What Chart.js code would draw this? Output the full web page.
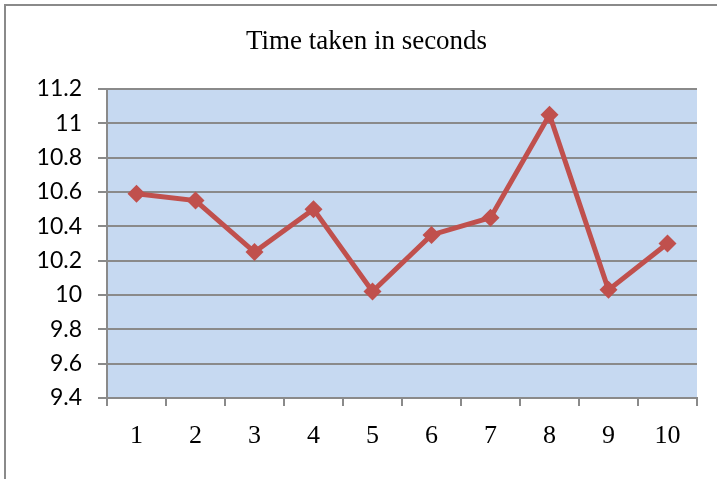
<!DOCTYPE html>
<html>
<head>
<meta charset="utf-8">
<script src="https://cdn.jsdelivr.net/npm/chart.js@4/dist/chart.umd.min.js"></script>
<style>
  body { margin: 0; background: #fff; overflow: hidden; }
  #frame {
    position: absolute; left: 4px; top: 4px;
    border-top: 2px solid #8a8a8a; border-left: 2px solid #8a8a8a;
    width: 721px; height: 473px;
  }
</style>
</head>
<body>
<div id="frame"><canvas id="timeChart" width="721" height="473"></canvas></div>
<script>
const runs = ['1', '2', '3', '4', '5', '6', '7', '8', '9', '10']
const seconds = [10.59, 10.55, 10.25, 10.5, 10.02, 10.35, 10.45, 11.05, 10.03, 10.3]
const yMin = 9.4
const yMax = 11.2
const yStep = 0.2

// light blue plot area like the excel original
const plotBg = {
  id: 'plotBg',
  beforeDraw(chart) {
    const a = chart.chartArea
    const ctx = chart.ctx
    ctx.save()
    ctx.fillStyle = '#c6d9f1'
    ctx.fillRect(a.left, a.top, a.right - a.left, a.bottom - a.top)
    ctx.restore()
  }
}

const timeChart = new Chart(
  document.getElementById('timeChart'),
  {
    type: 'line',
    data: {
      labels: runs,
      datasets: [{
        label: 'Time taken in seconds',
        data: seconds,
        borderColor: '#c0504d',
        backgroundColor: '#c0504d',
        borderWidth: 5,
        pointStyle: 'rectRot',
        pointRadius: 9,
        pointBorderWidth: 0,
        tension: 0
      }]
    },
    options: {
      responsive: false,
      animation: false,
      layout: { padding: 0 },
      plugins: {
        legend: { display: false },
        tooltip: { enabled: false },
        title: {
          display: true,
          text: 'Time taken in seconds',
          color: '#000',
          font: { family: '"Liberation Serif"', size: 27, weight: 'normal' },
          padding: { top: 20, bottom: 30.6 }
        }
      },
      scales: {
        x: {
          offset: true,
          grid: { offset: true, drawOnChartArea: false, drawTicks: true, tickLength: 8, color: '#8a8a8a', lineWidth: 2 },
          border: { display: true, color: '#8a8a8a', width: 2 },
          ticks: { color: '#000', padding: 15, font: { family: '"Liberation Serif"', size: 26 } },
          afterFit(scale) { scale.height = 81 }
        },
        y: {
          min: yMin,
          max: yMax,
          grid: { color: '#8a8a8a', lineWidth: 2, tickLength: 9 },
          border: { display: true, color: '#8a8a8a', width: 2 },
          ticks: {
            stepSize: yStep,
            color: '#000',
            padding: 16,
            font: { family: 'Lato', size: 23 },
            callback: v => String(Number(v.toFixed(1)))
          },
          afterFit(scale) { scale.width = 101 }
        },
        // empty spacer on the right so the title stays centred on the whole frame
        spacer: {
          type: 'linear',
          position: 'right',
          min: yMin,
          max: yMax,
          grid: { display: false },
          border: { display: false },
          ticks: { display: false },
          afterFit(scale) { scale.width = 30 }
        }
      }
    },
    plugins: [plotBg]
  }
)
</script>
</body>
</html>
